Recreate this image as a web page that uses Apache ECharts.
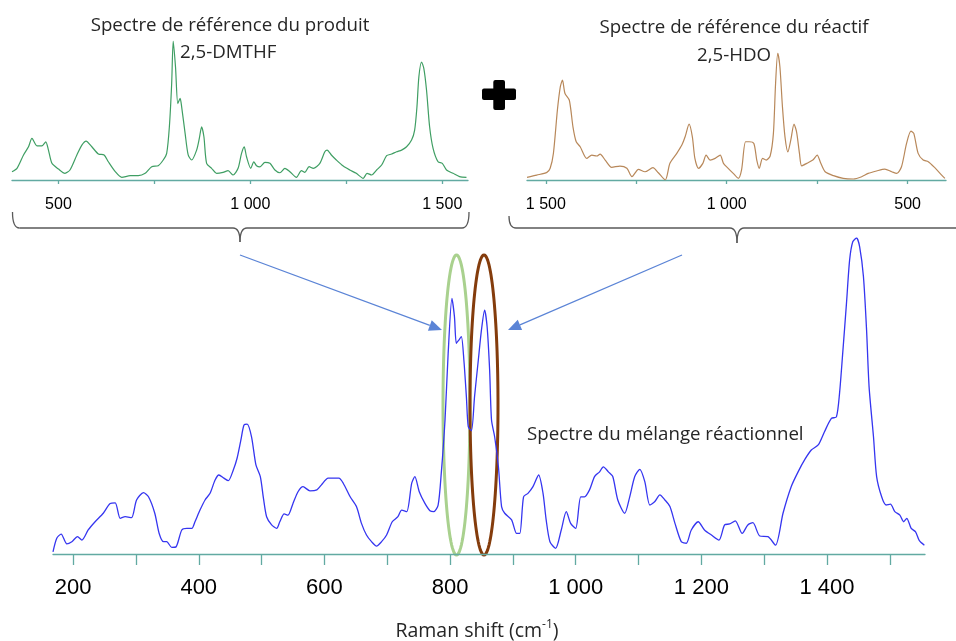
<!DOCTYPE html>
<html><head><meta charset="utf-8">
<script src="https://cdn.jsdelivr.net/npm/echarts@6/dist/echarts.min.js"></script>
<style>html,body{margin:0;padding:0;background:#fff}#c{width:956px;height:641px}</style>
</head><body><div id="c"></div>
<script>
// Main spectrum (reaction mixture)
var mixX = [168,174,181,190,198,207,214,224,235,248,259,267,275,283,293,301,312,320,330,337,344,349,357,364,373,381,389,394,402,410,418,426,432,440,447,455,461,467,472,477,484,491,498,503,508,516,524,529,536,542,550,558,566,577,588,595,606,614,623,630,641,651,659,667,675,683,691,699,708,717,723,731,739,744,751,760,768,774,781,786,792,797,803,807,810,814,818,822,826,829,834,839,845,850,855,859,863,866,871,877,882,887,898,906,911,917,924,932,941,948,953,959,968,977,985,992,1000,1008,1014,1022,1030,1038,1044,1052,1059,1067,1078,1086,1094,1102,1110,1118,1126,1134,1142,1150,1158,1168,1176,1184,1195,1205,1216,1228,1237,1245,1254,1265,1274,1282,1293,1306,1318,1330,1343,1354,1365,1375,1386,1396,1407,1415,1420,1425,1431,1436,1441,1447,1452,1458,1463,1467,1474,1479,1487,1494,1501,1508,1516,1522,1527,1534,1541,1547,1555];
var mixY = [0.7,5,6.3,3.2,3.9,5.5,4.4,7.6,10.2,12.9,16,16.2,11.3,11.8,11.5,17.1,19.4,18.1,12.9,6.5,3.9,3.9,2.1,2.3,7.6,8.1,8.1,10.2,13.9,17.1,19.2,23.4,25,24,23.2,26.6,30.3,36,40.8,41.1,37.1,28.2,24.5,17.6,11.8,9.2,8.1,10.2,12.7,12.3,16,19.7,21.3,20,20.3,21.8,24,24,24,22.4,18.1,15,9.7,6,3.9,2.5,3.9,6,10.2,11.8,13.9,13.4,22.4,24.5,19.7,16,13.7,13.4,15.5,25.5,42.4,63.5,80.9,75.1,66.7,67.7,68.8,61.4,49.8,40.3,39,49.8,61.4,70.9,77.2,71.9,58.2,42.4,37.1,27.6,15,12.9,10.8,6.5,6.5,18.1,19.2,21.3,25,19.2,10.8,3.9,1.8,7.6,13.4,9.7,8.1,18.1,18.1,20.3,24.5,26,27.6,26,24.5,17.1,12.9,18.1,24.5,26.8,22.9,15.5,16.6,18.7,17.1,15,9.7,3.9,3.4,7.6,10.2,7.6,6,4.4,9.2,9.5,10.5,6.5,9.2,9.9,5.7,5.5,2.8,12.9,21.3,26,30,32.9,34.5,38.7,42.9,43.4,50.9,63.5,79.3,93,98.8,100,97.2,87.8,70.9,52.9,37.1,24.5,18.1,15.5,15.8,13.4,12.3,10.2,11.3,8.1,7,4.2,2.8];
// Reference spectrum of product 2,5-DMTHF
var dmthfX = [379,392,409,422,431,444,457,467,474,483,500,517,530,548,561,572,587,604,619,630,648,665,687,708,726,743,760,773,782,789,795,799,805,811,817,821,830,838,847,860,867,873,879,886,899,912,929,942,955,968,977,984,990,1001,1009,1016,1025,1038,1051,1064,1077,1090,1103,1120,1133,1142,1153,1164,1181,1194,1200,1211,1224,1242,1259,1276,1294,1304,1316,1329,1342,1355,1368,1381,1394,1407,1420,1428,1434,1439,1446,1452,1459,1467,1476,1489,1500,1511,1528,1545,1563];
var dmthfY = [6,8.4,18,23.9,29.9,24.6,24.6,27.5,21.5,12,7.9,4.8,7.2,18,25.1,28,23.9,18.7,18,13.1,6,1.9,3.1,3.1,4.8,9.6,10.3,14.4,19.2,38.3,69.4,100,81.3,55,58.7,52.6,33.5,18,14.4,21.5,29.9,38.3,31.1,12,8.4,4.8,5.5,6.7,3.6,8.4,19.2,23.9,16.7,8.4,13.1,10.3,9.5,12.7,12,7.2,5.2,8.4,6,1.9,6.7,5.5,9.6,8.4,12,20.3,21.5,18,14.4,10,7.2,4.8,1.2,4.8,3.6,7.2,10.8,17.5,18.7,20.3,21.5,23.9,28.7,35.9,52.6,74.2,84.9,80.2,64.6,38.3,22.8,13.1,12,7.2,4.8,2.4,1.9];
// Reference spectrum of reactant 2,5-HDO
var hdoX = [1552,1525,1497,1488,1479,1468,1460,1454,1447,1435,1425,1416,1405,1387,1373,1359,1350,1336,1318,1295,1276,1262,1244,1226,1204,1189,1170,1157,1138,1124,1115,1104,1095,1088,1078,1066,1057,1046,1032,1018,1009,996,982,968,959,948,938,925,917,910,901,891,880,871,865,859,853,846,839,831,823,814,807,799,793,779,762,750,740,728,705,678,650,627,609,586,563,544,530,517,503,491,483,471,457,443,425,406,397];
var hdoY = [2.1,3.9,6,9.2,21,55,73.3,78.6,68.1,62.8,41.9,30.1,26.2,17,19.6,18.9,20.4,15.7,10,11,9.2,2.6,8.4,6.5,9.7,5.7,0,13.1,21,27.5,34,44,34,17,9.2,13.1,19.6,15.7,17,19.6,13.1,9.2,5.2,1.3,7.9,30.1,30.1,28.8,15.7,9.2,17,15.7,18.9,36.7,76,100,89,57.6,34,22.2,31.4,44,37.9,21,11.2,13.1,15.7,19.6,13.1,6.5,3.4,1.3,0.8,2.6,5.2,7.1,8.6,6.5,5.2,10.4,28.8,38.5,36.7,21,15.7,14.4,9.7,3.9,1.3];
// Tick values
var mainTicks = [200,300,400,500,600,700,800,900,1000,1100,1200,1300,1400,1500];
var mainLabels = [200,400,600,800,1000,1200,1400];
var insetTicks = [500,750,1000,1250,1500];
var insetLabels = [500,1000,1500];

function zip(a,b){return a.map(function(v,i){return [v,b[i]];});}
function fmt(v){v=Math.round(v);return v>=1000?Math.floor(v/1000)+' '+String(v%1000).padStart(3,'0'):String(v);}
var axisCol = '#62aaa2';
function mkX(gi,min,max,ticks,labels,fs,margin,tickLen,inverse){
  return {type:'value',gridIndex:gi,min:min,max:max,inverse:!!inverse,
    axisLine:{show:true,lineStyle:{color:axisCol,width:1.3}},
    axisTick:{show:true,customValues:ticks,length:tickLen,lineStyle:{color:axisCol,width:1.3}},
    minorTick:{show:false},splitLine:{show:false},
    axisLabel:{customValues:labels,formatter:fmt,color:'#000',fontFamily:'Liberation Sans',fontSize:fs,margin:margin}};
}
function mkY(gi){return {type:'value',gridIndex:gi,min:0,max:100,show:false,splitLine:{show:false}};}

function arrow(x1,y1,x2,y2,col){
  var dx=x2-x1,dy=y2-y1,L=Math.sqrt(dx*dx+dy*dy),ux=dx/L,uy=dy/L,h=13,w=5.5;
  var bx=x2-ux*h,by=y2-uy*h;
  return [
    {type:'line',shape:{x1:x1,y1:y1,x2:bx,y2:by},style:{stroke:col,lineWidth:1.3}},
    {type:'polygon',shape:{points:[[x2,y2],[bx-uy*w,by+ux*w],[bx+uy*w,by-ux*w]]},style:{fill:col}}
  ];
}
function ellipse(cx,cy,rx,ry,col){
  var pts=[];for(var i=0;i<120;i++){var a=i/120*Math.PI*2;pts.push([cx+rx*Math.cos(a),cy+ry*Math.sin(a)]);}
  return {type:'polygon',shape:{points:pts,smooth:0},style:{fill:'none',stroke:col,lineWidth:3}};
}
function brace(xl,ytopL,xr,ytopR,xm,y,ytip,col){
  var s={fill:'none',stroke:col,lineWidth:1.3};
  var out=[
    {type:'bezierCurve',shape:{x1:xl,y1:ytopL,cpx1:xl,cpy1:y,x2:xl+7,y2:y},style:s},
    {type:'line',shape:{x1:xl+7,y1:y,x2:xm-7,y2:y},style:s},
    {type:'bezierCurve',shape:{x1:xm-7,y1:y,cpx1:xm,cpy1:y,x2:xm,y2:ytip},style:s},
    {type:'bezierCurve',shape:{x1:xm,y1:ytip,cpx1:xm,cpy1:y,x2:xm+7,y2:y},style:s}
  ];
  if(ytopR!=null){
    out.push({type:'line',shape:{x1:xm+7,y1:y,x2:xr-7,y2:y},style:s});
    out.push({type:'bezierCurve',shape:{x1:xr-7,y1:y,cpx1:xr,cpy1:y,x2:xr,y2:ytopR},style:s});
  } else {
    out.push({type:'line',shape:{x1:xm+7,y1:y,x2:xr,y2:y},style:s});
  }
  return out;
}
var txtCol = '#262626';
var graphics = [
  {type:'text',x:230,y:26,style:{text:'Spectre de référence du produit',fill:txtCol,font:'18.7px "Open Sans"',textAlign:'center',textVerticalAlign:'middle'}},
  {type:'text',x:180,y:53,style:{text:'2,5-DMTHF',fill:txtCol,font:'18.7px "Open Sans"',textAlign:'left',textVerticalAlign:'middle'}},
  {type:'text',x:734,y:28,style:{text:'Spectre de référence du réactif',fill:txtCol,font:'18.7px "Open Sans"',textAlign:'center',textVerticalAlign:'middle'}},
  {type:'text',x:734,y:56,style:{text:'2,5-HDO',fill:txtCol,font:'18.7px "Open Sans"',textAlign:'center',textVerticalAlign:'middle'}},
  {type:'text',x:527,y:435,style:{text:'Spectre du mélange réactionnel',fill:txtCol,font:'18.7px "Open Sans"',textAlign:'left',textVerticalAlign:'middle'}},
  {type:'text',x:477,y:631,style:{text:'{a|Raman shift (cm}{s|-1}{a|)}',textAlign:'center',textVerticalAlign:'middle',
     rich:{a:{fontFamily:'Open Sans',fontSize:19.5,fill:txtCol},s:{fontFamily:'Open Sans',fontSize:12,fill:txtCol,padding:[0,0,12,0]}}}},
  {type:'rect',shape:{x:482,y:88.5,width:34,height:11.5,r:2},style:{fill:'#000'}},
  {type:'rect',shape:{x:493.3,y:80,width:11.7,height:30,r:2},style:{fill:'#000'}},
  ellipse(456.5,405,13.5,150,'#a9d18e'),
  ellipse(484,405,14,150,'#843c0c')
].concat(brace(12.5,212,469,212,240,228,242,'#595959'))
 .concat(brace(509,216,960,null,737,228,243,'#595959'))
 .concat(arrow(240,255,442,330,'#5b84d6')).concat(arrow(682,255,508,330,'#5b84d6'));

var chart = echarts.init(document.getElementById('c'),null,{renderer:'canvas'});
chart.setOption({
  animation:false,
  backgroundColor:'#fff',
  grid:[
    {left:53,right:31,top:238,bottom:87},
    {left:12,right:488,top:41,bottom:461},
    {left:527,right:10,top:53,bottom:461}
  ],
  xAxis:[
    mkX(0,168,1556,mainTicks,mainLabels,22,23,11,false),
    mkX(1,379,1567,insetTicks,insetLabels,16,17,4,false),
    mkX(2,394,1552,insetTicks,insetLabels,16,17,4,true)
  ],
  yAxis:[mkY(0),mkY(1),mkY(2)],
  series:[
    {type:'line',xAxisIndex:0,yAxisIndex:0,data:zip(mixX,mixY),showSymbol:false,smooth:0.25,lineStyle:{color:'#3535f0',width:1.3},z:3},
    {type:'line',xAxisIndex:1,yAxisIndex:1,data:zip(dmthfX,dmthfY),showSymbol:false,smooth:0.25,lineStyle:{color:'#3f9e63',width:1.2}},
    {type:'line',xAxisIndex:2,yAxisIndex:2,data:zip(hdoX,hdoY),showSymbol:false,smooth:0.25,lineStyle:{color:'#b8885a',width:1.2}}
  ],
  graphic:graphics
});
</script></body></html>
